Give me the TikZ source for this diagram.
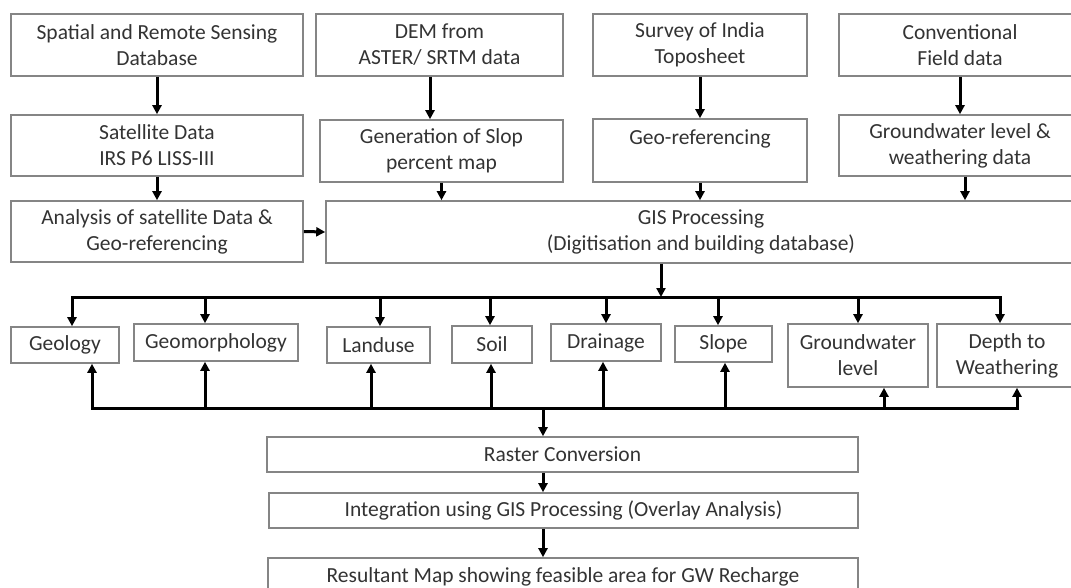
\documentclass[tikz,border=0pt]{standalone}
\usepackage{fontspec}
\setmainfont{Carlito}
\usetikzlibrary{arrows.meta}
\definecolor{boxgray}{HTML}{858585}
\definecolor{txtgray}{HTML}{333333}

\begin{document}
\begin{tikzpicture}[x=1pt,y=-1pt,font=\fontsize{21.5}{26}\selectfont,
  box/.style={draw=boxgray,line width=1.6pt,align=center,inner sep=2pt,text=txtgray},
  flow/.style={line width=3pt,-{Triangle[length=9pt,width=9pt]}},
  busline/.style={line width=3pt,line cap=rect}]
  \useasboundingbox (0,0) rectangle (1071,588);
  \clip (0,0) rectangle (1071,588);
  % data sources
  \node[box,minimum width=292pt,minimum height=62pt] (spatial) at (157,45) {Spatial and Remote Sensing\\Database};
  \node[box,minimum width=247pt,minimum height=62pt] (dem) at (439.5,45) {DEM from\\ASTER/ SRTM data};
  \node[box,minimum width=214pt,minimum height=62pt] (topo) at (700,45) {Survey of India\\Toposheet};
  \node[box,minimum width=242pt,minimum height=62pt] (field) at (960,45) {Conventional\\Field data};
  % preparation
  \node[box,minimum width=292pt,minimum height=61pt] (satellite) at (157,145.5) {Satellite Data\\IRS P6 LISS-III};
  \node[box,minimum width=243pt,minimum height=62pt] (slopemap) at (441.5,151) {Generation of Slop\\percent map};
  \node[box,minimum width=214pt,minimum height=63pt,text depth=26pt] (georef) at (700,150.5) {Geo-referencing};
  \node[box,minimum width=242pt,minimum height=61pt] (gwdata) at (960,145.5) {Groundwater level \&\\weathering data};
  \node[box,minimum width=292pt,minimum height=61pt] (analysis) at (157,231.5) {Analysis of satellite Data \&\\Geo-referencing};
  \node[box,minimum width=750pt,minimum height=62pt] (gis) at (701,232) {GIS Processing\\(Digitisation and building database)};
  % thematic layers
  \node[box,minimum width=108pt,minimum height=36pt] (geology) at (65,345) {Geology};
  \node[box,minimum width=164pt,minimum height=37pt] (geomorph) at (216,342.5) {Geomorphology};
  \node[box,minimum width=103pt,minimum height=36pt] (landuse) at (378.5,345) {Landuse};
  \node[box,minimum width=80pt,minimum height=37pt] (soil) at (492,344.5) {Soil};
  \node[box,minimum width=110pt,minimum height=37pt] (drainage) at (606,342.5) {Drainage};
  \node[box,minimum width=97pt,minimum height=36pt] (slope) at (723.5,344) {Slope};
  \node[box,minimum width=140pt,minimum height=63pt] (gwlevel) at (858,355.5) {Groundwater\\level};
  \node[box,minimum width=140pt,minimum height=63pt] (depth) at (1007,355.5) {Depth to\\Weathering};
  % integration
  \node[box,minimum width=591pt,minimum height=35pt] (raster) at (562.5,454.5) {Raster Conversion};
  \node[box,minimum width=589pt,minimum height=35pt] (overlay) at (563.5,510.5) {Integration using GIS Processing (Overlay Analysis)};
  \node[box,minimum width=590pt,minimum height=38pt] (result) at (563,577) {Resultant Map showing feasible area for GW Recharge};
  \coordinate (hub) at (661,297);
  \coordinate (sink) at (543,408);
  % upper arrows
  \draw[flow](spatial)--(satellite);\draw[flow](dem.south -| 430,0)--(430,0 |- slopemap.north);
  \draw[flow](topo)--(georef);\draw[flow](field)--(gwdata);
  \draw[flow](satellite)--(analysis);\draw[flow](slopemap.south)--(slopemap.south |- gis.north);
  \draw[flow](georef.south)--(georef.south |- gis.north);\draw[flow](gwdata.south -| 965,0)--(965,0 |- gis.north);
  \draw[flow](analysis.east)--(gis.west);
  % distribution bus
  \draw[flow](gis.south -| hub)--(hub);
  \draw[busline](hub -| 72,0)--(hub -| 1000,0);
  \draw[flow](hub -| 72,0)--(72,0 |- geology.north);\draw[flow](hub -| 205,0)--(205,0 |- geomorph.north);
  \draw[flow](hub -| 380,0)--(380,0 |- landuse.north);\draw[flow](hub -| 490,0)--(490,0 |- soil.north);
  \draw[flow](hub -| 606,0)--(606,0 |- drainage.north);\draw[flow](hub -| 718,0)--(718,0 |- slope.north);
  \draw[flow](hub -| 858,0)--(858,0 |- gwlevel.north);\draw[flow](hub -| 1000,0)--(1000,0 |- depth.north);
  % collecting bus
  \draw[busline](sink -| 92,0)--(sink -| 1017,0);
  \draw[flow](sink -| 92,0)--(92,0 |- geology.south);\draw[flow](sink -| 205,0)--(205,0 |- geomorph.south);
  \draw[flow](sink -| 371,0)--(371,0 |- landuse.south);\draw[flow](sink -| 491,0)--(491,0 |- soil.south);
  \draw[flow](sink -| 603,0)--(603,0 |- drainage.south);\draw[flow](sink -| 725,0)--(725,0 |- slope.south);
  \draw[flow](sink -| 884,0)--(884,0 |- gwlevel.south);\draw[flow](sink -| 1017,0)--(1017,0 |- depth.south);
  \draw[flow](sink)--(sink |- raster.north);
  \draw[flow](raster.south -| sink)--(sink |- overlay.north);
  \draw[flow](overlay.south -| sink)--(sink |- result.north);
\end{tikzpicture}
\end{document}
